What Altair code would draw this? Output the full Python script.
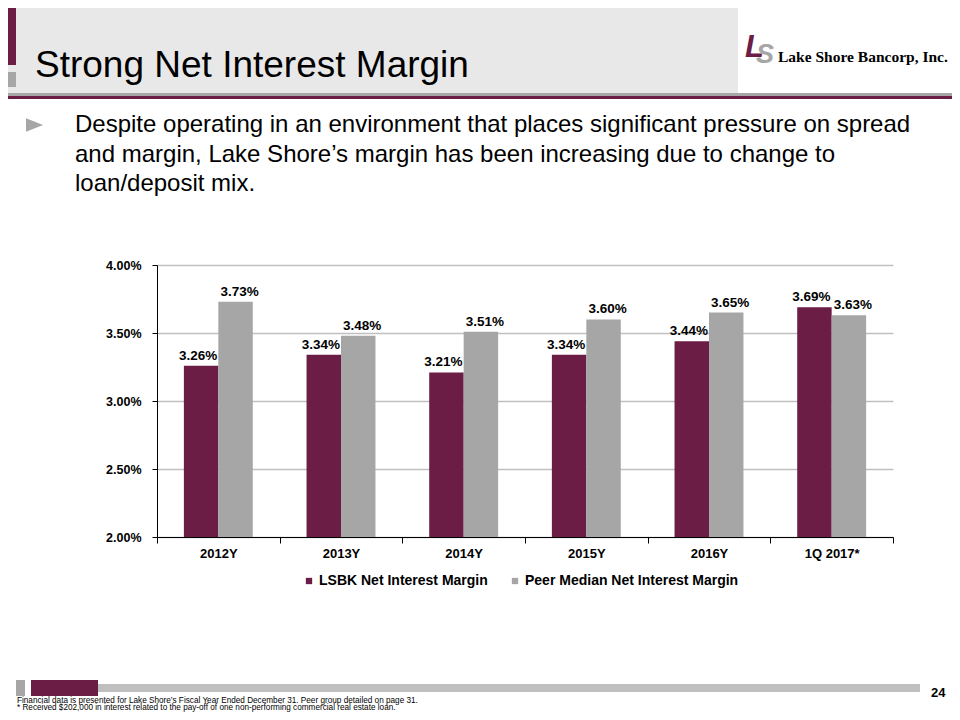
import altair as alt
import pandas as pd

categories = ["2012Y", "2013Y", "2014Y", "2015Y", "2016Y", "1Q 2017*"]
lsbk = [3.26, 3.34, 3.21, 3.34, 3.44, 3.69]
peer = [3.73, 3.48, 3.51, 3.60, 3.65, 3.63]
series_names = ["LSBK Net Interest Margin", "Peer Median Net Interest Margin"]
y_ticks = [2.0, 2.5, 3.0, 3.5, 4.0]

title_text = "Strong Net Interest Margin"
bullet_lines = [
    "Despite operating in an environment that places significant pressure on spread",
    "and margin, Lake Shore\u2019s margin has been increasing due to change to",
    "loan/deposit mix.",
]
footnote_lines = [
    "Financial data is presented for Lake Shore\u2019s Fiscal Year Ended December 31. Peer group detailed on page 31.",
    "* Received $202,000 in interest related to the pay-off of one non-performing commercial real estate loan.",
]
page_number = "24"
company = "Lake Shore Bancorp, Inc."

rows = []
for c, a, b in zip(categories, lsbk, peer):
    rows.append({"cat": c, "series": series_names[0], "value": a})
    rows.append({"cat": c, "series": series_names[1], "value": b})
df = pd.DataFrame(rows)

MAROON = "#6C1D45"
GRAY = "#A6A6A6"
FONT = "Liberation Sans"
PX, PY = 157, 265  # plot origin on the page
W, H = 736, 272

dummy = pd.DataFrame({"d": [0]})


def rect(x0, y0, x1, y1, color):
    return alt.Chart(dummy).mark_rect(color=color).encode(
        x=alt.value(x0 - PX), x2=alt.value(x1 - PX),
        y=alt.value(y0 - PY), y2=alt.value(y1 - PY))


def text(x, y, txt, **kw):
    opts = dict(align="left", baseline="alphabetic", font=FONT, color="#000")
    opts.update(kw)
    return alt.Chart(dummy).mark_text(text=txt, **opts).encode(
        x=alt.value(x - PX), y=alt.value(y - PY))


decor = [
    rect(0, 0, 738, 93, "#E8E8E8"),
    rect(0, 0, 16, 65, MAROON),
    rect(0, 72, 16, 87, GRAY),
    rect(0, 93, 960, 96, GRAY),
    rect(0, 96, 960, 99, MAROON),
    text(35, 77, title_text, fontSize=37),
    text(745, 57, "L", fontSize=31, fontWeight="bold", fontStyle="italic", color=MAROON),
    text(756, 63, "S", fontSize=27, fontWeight="bold", fontStyle="italic", color=GRAY),
    text(778, 62, company, font="Liberation Serif", fontSize=15.5, fontWeight="bold"),
    alt.Chart(dummy).mark_point(shape="M-1,-0.8L1,0L-1,0.8Z", filled=True, color=GRAY,
                                size=289, opacity=1).encode(
        x=alt.value(34.5 - PX), y=alt.value(125 - PY)),
    text(75, 132, bullet_lines, fontSize=24, lineHeight=29.5),
    rect(16, 680, 25, 696, GRAY),
    rect(31, 680, 98, 696, MAROON),
    rect(98, 684, 920, 692, "#BFBFBF"),
    text(931, 697, page_number, fontSize=13, fontWeight="bold"),
    text(17, 702.5, footnote_lines, fontSize=8.2, lineHeight=7.5),
]

base = alt.Chart(df).encode(
    x=alt.X("cat:N", sort=categories,
            scale=alt.Scale(paddingInner=0, paddingOuter=0),
            axis=alt.Axis(title=None, labelAngle=0, tickBand="extent",
                          labelFont=FONT, labelFontWeight="bold", labelFontSize=13,
                          labelColor="#000", domainColor="#000", tickColor="#000",
                          tickSize=6, labelPadding=4, grid=False)),
    xOffset=alt.XOffset("series:N", sort=series_names,
                        scale=alt.Scale(paddingOuter=0.78, paddingInner=0)),
)

bars = base.mark_bar().encode(
    y=alt.Y("value:Q", scale=alt.Scale(domain=[2, 4], nice=False, zero=False),
            axis=alt.Axis(title=None, values=y_ticks,
                          labelExpr="format(datum.value, '.2f') + '%'",
                          labelFont=FONT, labelFontWeight="bold", labelFontSize=12.5,
                          labelColor="#000", domainColor="#000", tickColor="#000",
                          tickSize=5, labelPadding=11, grid=True,
                          gridColor="#C0C0C0", gridWidth=1.5)),
    y2=alt.datum(2.0),
    color=alt.Color("series:N", sort=series_names,
                    scale=alt.Scale(domain=series_names, range=[MAROON, GRAY]),
                    legend=alt.Legend(title=None, orient="none", legendX=145, legendY=309,
                                      direction="horizontal", symbolType="square",
                                      symbolSize=40, symbolStrokeWidth=0,
                                      labelFont=FONT, labelFontWeight="bold",
                                      labelFontSize=14, labelColor="#000", labelLimit=0,
                                      columnPadding=20, labelOffset=3, padding=0)),
)


def label_layer(name, dx):
    return base.transform_filter(alt.datum.series == name).transform_calculate(
        label="format(datum.value, '.2f') + '%'"
    ).mark_text(baseline="alphabetic", dy=-6, dx=dx, font=FONT, fontWeight="bold",
                fontSize=13.5, color="#000").encode(
        y=alt.Y("value:Q"), text="label:N")


chart = alt.layer(*decor, bars, label_layer(series_names[0], -3),
                  label_layer(series_names[1], 4)).properties(
    width=W, height=H,
    padding={"left": PX - 8, "top": PY - 8, "right": 960 - 8 - (PX + W), "bottom": 720 - 8 - (PY + H)},
    autosize=alt.AutoSizeParams(type="none"),
    background="white",
).configure_view(stroke=None)

chart.save("out.html", embed_options={"renderer": "svg", "actions": False})
